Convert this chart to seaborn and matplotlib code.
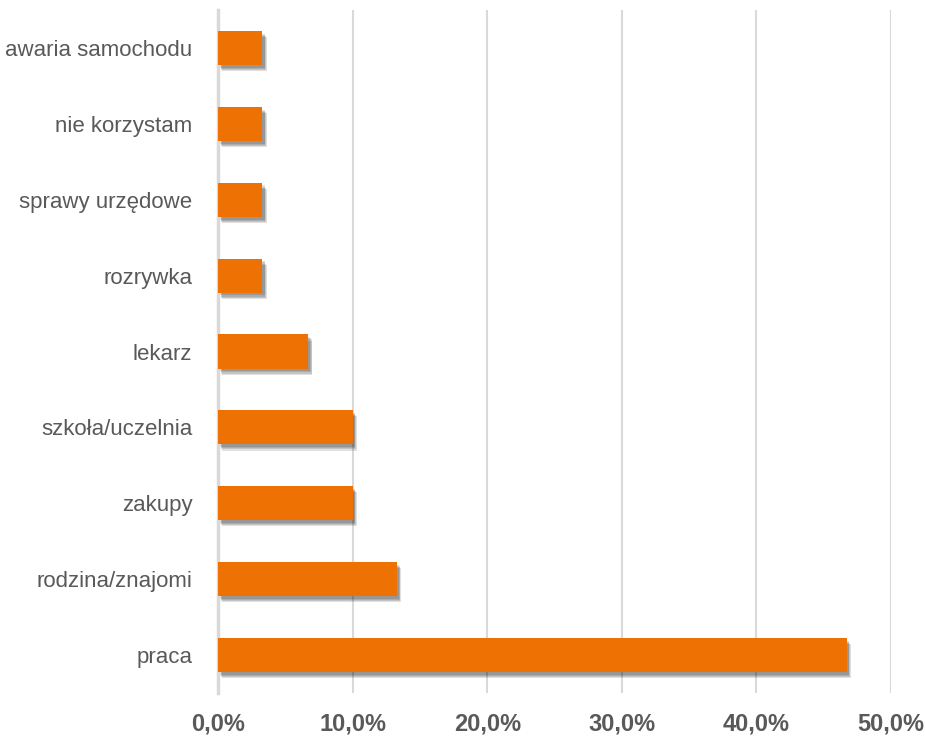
import matplotlib
matplotlib.use("Agg")
import matplotlib.pyplot as plt
import matplotlib.patheffects as pe
from matplotlib.ticker import FuncFormatter
import seaborn as sns
import pandas as pd

categories = ["awaria samochodu", "nie korzystam", "sprawy urzędowe", "rozrywka",
              "lekarz", "szkoła/uczelnia", "zakupy", "rodzina/znajomi", "praca"]
values = [3.3, 3.3, 3.3, 3.3, 6.7, 10.0, 10.0, 13.3, 46.7]
xticks = [0, 10, 20, 30, 40, 50]

df = pd.DataFrame({"cat": categories, "val": values})

sns.set_style("white")
plt.rcParams["font.family"] = ["Liberation Sans", "DejaVu Sans"]

fig = plt.figure(figsize=(9.25, 7.4), dpi=100)
ax = fig.add_axes([218/925, 1 - 693/740, (891-218)/925, (693-10)/740])

sns.barplot(data=df, x="val", y="cat", orient="h", color="#EE7203",
            width=0.45, ax=ax, saturation=1, zorder=3)
shadow = [pe.SimplePatchShadow(offset=(1.5 + 0.5*i, -2 - 0.8*i), alpha=0.12,
                               shadow_rgbFace="black") for i in range(4)]
for p in ax.patches:
    p.set_edgecolor("none")
    p.set_path_effects(shadow + [pe.Normal()])

ax.set_xlim(0, 50)
ax.set_ylim(8.5, -0.5)
ax.set_xticks(xticks)
ax.xaxis.set_major_formatter(FuncFormatter(lambda v, _: f"{v:.1f}%".replace(".", ",")))
ax.grid(axis="x", color="#D9D9D9", linewidth=1.5, zorder=0)
ax.set_axisbelow(True)
for s in ["top", "right", "bottom"]:
    ax.spines[s].set_visible(False)
ax.spines["left"].set_color("#D9D9D9")
ax.spines["left"].set_linewidth(2.5)
ax.set_xlabel("")
ax.set_ylabel("")
ax.tick_params(axis="both", length=0)
ax.tick_params(axis="x", pad=14, labelsize=17, labelcolor="#595959")
ax.tick_params(axis="y", pad=18.5, labelsize=16, labelcolor="#595959")
for t in ax.get_xticklabels():
    t.set_fontweight("bold")

fig.savefig("out.png", dpi=100)
